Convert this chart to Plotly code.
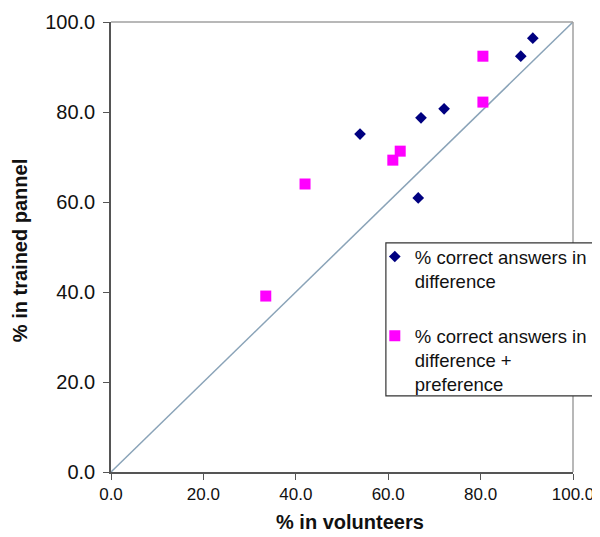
import plotly.graph_objects as go

# Data
diff_x = [53.9, 67.1, 72.1, 88.7, 91.3, 66.5]
diff_y = [75.1, 78.7, 80.7, 92.4, 96.4, 60.9]
pref_x = [33.5, 42.0, 61.0, 62.6, 80.5, 80.5]
pref_y = [39.1, 64.0, 69.3, 71.3, 92.4, 82.2]
diag = [0, 100]
tick_vals = [0, 20, 40, 60, 80, 100]

font_family = "Arial, Liberation Sans, sans-serif"

fig = go.Figure()
fig.add_trace(go.Scatter(x=diag, y=diag, mode="lines",
                         line=dict(color="#8aa3b8", width=1.5),
                         showlegend=False, hoverinfo="skip"))
fig.add_trace(go.Scatter(x=diff_x, y=diff_y, mode="markers",
                         name="% correct answers in<br>difference",
                         legendgroup="a",
                         marker=dict(symbol="diamond", size=9, color="#000080")))
fig.add_trace(go.Scatter(x=pref_x, y=pref_y, mode="markers",
                         name="% correct answers in<br>difference +<br>preference",
                         legendgroup="b",
                         marker=dict(symbol="square", size=11, color="#ff00ff")))

fig.update_layout(
    width=592, height=529,
    margin=dict(l=103, r=27, t=14, b=65, autoexpand=False),
    plot_bgcolor="white", paper_bgcolor="white",
    font=dict(family=font_family, color="#111"),
    legend=dict(x=0.571, y=0.52, xanchor="left", yanchor="top",
                borderwidth=0, bgcolor="rgba(0,0,0,0)",
                font=dict(size=18.5, color="#111"), valign="top",
                tracegroupgap=28),
    shapes=[
        dict(type="line", xref="paper", yref="paper", x0=0, x1=1, y0=1, y1=1,
             line=dict(color="#a0a0a0", width=1.5), layer="above"),
        dict(type="line", xref="paper", yref="paper", x0=1, x1=1, y0=0, y1=1,
             line=dict(color="#a0a0a0", width=1.5), layer="above"),
        dict(type="rect", xref="paper", yref="paper", x0=0.595, x1=1.1,
             y0=0.169, y1=0.509, fillcolor="white",
             line=dict(color="#333", width=1.2), layer="above"),
    ],
    annotations=[
        dict(text="<b>% in volunteers</b>", xref="paper", yref="paper",
             x=0.517, y=-0.111, xanchor="center", yanchor="middle",
             showarrow=False, font=dict(size=20, color="#111")),
        dict(text="<b>% in trained pannel</b>", xref="paper", yref="paper",
             x=-0.197, y=0.493, xanchor="center", yanchor="middle",
             textangle=-90, showarrow=False, font=dict(size=20, color="#111")),
    ],
)
fig.update_xaxes(range=[0, 100], tickvals=tick_vals, tickformat=".1f",
                 showgrid=False, zeroline=False, showline=True,
                 linecolor="#555", linewidth=1.5, ticks="outside", ticklen=6,
                 tickcolor="#555", tickfont=dict(size=17, color="#111"))
fig.update_yaxes(range=[0, 100], tickvals=tick_vals, tickformat=".1f",
                 showgrid=False, zeroline=False, showline=True,
                 linecolor="#555", linewidth=1.5, ticks="outside", ticklen=6,
                 tickcolor="#555", tickfont=dict(size=20, color="#111"),
                 ticklabelstandoff=4)

fig.write_html("out.html")
